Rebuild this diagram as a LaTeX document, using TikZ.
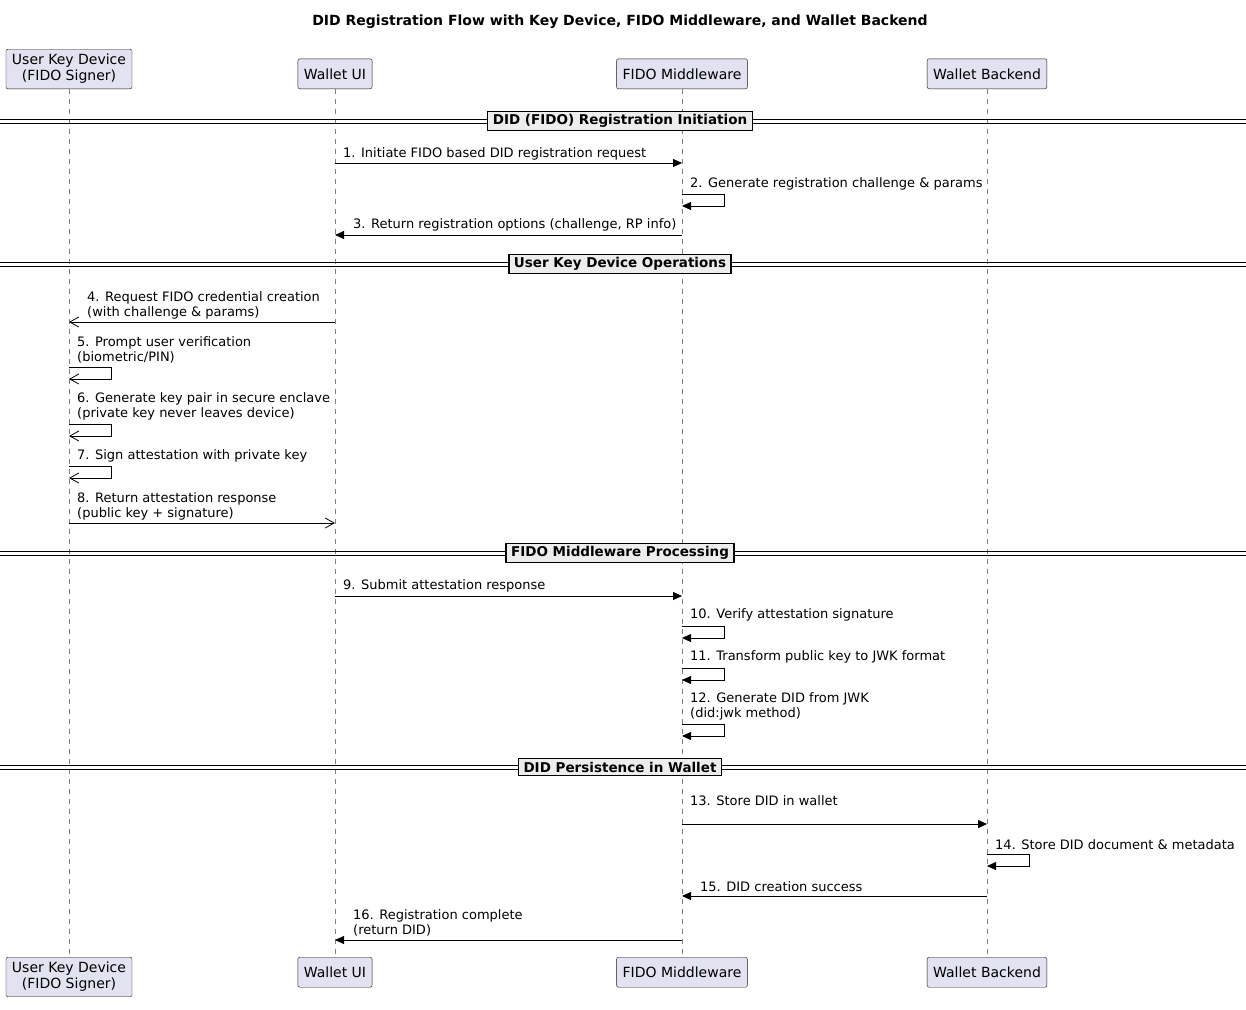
\documentclass[tikz,border=0pt]{standalone}
\usepackage{fontspec}
\setmainfont{DejaVu Sans}
\usetikzlibrary{arrows.meta}
\definecolor{pfill}{HTML}{E2E2F0}
\definecolor{pline}{HTML}{181818}
\begin{document}
\begin{tikzpicture}[x=1pt,y=-1pt,
  part/.style={draw=pline,fill=pfill,rounded corners=2pt,align=center,font=\fontsize{14}{16}\selectfont,inner xsep=6pt,inner ysep=5pt,minimum height=30pt},
  life/.style={draw=gray,dashed,dash pattern=on 5pt off 5pt,line width=0.5pt},
  msg/.style={-{Triangle[length=9pt,width=8pt]},line width=0.8pt},
  omsg/.style={-{Straight Barb[length=9pt,width=10pt]},line width=0.8pt},
  lbl/.style={font=\fontsize{13}{15}\selectfont,align=left,inner sep=0pt,anchor=south west},
  sep/.style={draw=black,fill=black!7,line width=1.2pt,font=\bfseries\fontsize{13.5}{15}\selectfont,inner xsep=5pt,inner ysep=3pt}]
\useasboundingbox (0,0) rectangle (1246,1009);
\node[font=\bfseries\fontsize{14}{16}\selectfont] (title) at (620,22) {DID Registration Flow with Key Device, FIDO Middleware, and Wallet Backend};
% heads
\node[part,anchor=south] (ukd) at (69,89) {User Key Device\\(FIDO Signer)};
\node[part,anchor=south] (wui) at (335,89) {Wallet UI};
\node[part,anchor=south] (fm) at (682,89) {FIDO Middleware};
\node[part,anchor=south] (wb) at (987,89) {Wallet Backend};
\node[part,anchor=north] (ukd2) at (69,957) {User Key Device\\(FIDO Signer)};
\node[part,anchor=north] (wui2) at (335,957) {Wallet UI};
\node[part,anchor=north] (fm2) at (682,957) {FIDO Middleware};
\node[part,anchor=north] (wb2) at (987,957) {Wallet Backend};
\draw[life] (ukd) -- (ukd2); \draw[life] (wui) -- (wui2);
\draw[life] (fm) -- (fm2); \draw[life] (wb) -- (wb2);
% separators
\foreach \y/\t/\n in {121/DID (FIDO) Registration Initiation/s1,264/User Key Device Operations/s2,553/FIDO Middleware Processing/s3,767/DID Persistence in Wallet/s4}{
  \draw[line width=0.8pt] (0,\y-2) -- (1246,\y-2) (0,\y+2) -- (1246,\y+2);
  \node[sep] (\n) at (620,\y) {\t};
}
% messages
\draw[msg] (wui |- 0,163) -- (fm |- 0,163);
\node[lbl] at (343,160) {1. Initiate FIDO based DID registration request};
\draw[msg] (682,194) -- (724,194) -- (724,206) -- (fm |- 0,206);
\node[lbl] at (690,190) {2. Generate registration challenge \& params};
\draw[msg] (fm |- 0,235) -- (wui |- 0,235);
\node[lbl] at (353,231) {3. Return registration options (challenge, RP info)};
\draw[omsg] (wui |- 0,322) -- (ukd |- 0,322);
\node[lbl] at (87,319) {4. Request FIDO credential creation\\(with challenge \& params)};
\draw[omsg] (69,367) -- (111,367) -- (111,379) -- (ukd |- 0,379);
\node[lbl] at (77,363) {5. Prompt user verification\\(biometric/PIN)};
\draw[omsg] (69,424) -- (111,424) -- (111,436) -- (ukd |- 0,436);
\node[lbl] at (77,420) {6. Generate key pair in secure enclave\\(private key never leaves device)};
\draw[omsg] (69,466) -- (111,466) -- (111,478) -- (ukd |- 0,478);
\node[lbl] at (77,462) {7. Sign attestation with private key};
\draw[omsg] (ukd |- 0,523) -- (wui |- 0,523);
\node[lbl] at (77,520) {8. Return attestation response\\(public key + signature)};
\draw[msg] (wui |- 0,596) -- (fm |- 0,596);
\node[lbl] at (343,592) {9. Submit attestation response};
\draw[msg] (682,626) -- (724,626) -- (724,638) -- (fm |- 0,638);
\node[lbl] at (690,621) {10. Verify attestation signature};
\draw[msg] (682,668) -- (724,668) -- (724,680) -- (fm |- 0,680);
\node[lbl] at (690,663) {11. Transform public key to JWK format};
\draw[msg] (682,724) -- (724,724) -- (724,736) -- (fm |- 0,736);
\node[lbl] at (690,720) {12. Generate DID from JWK\\(did:jwk method)};
\draw[msg] (fm |- 0,824) -- (wb |- 0,824);
\node[lbl] at (690,806) {13. Store DID in wallet};
\draw[msg] (987,854) -- (1029,854) -- (1029,866) -- (wb |- 0,866);
\node[lbl] at (995,850) {14. Store DID document \& metadata};
\draw[msg] (wb |- 0,896) -- (fm |- 0,896);
\node[lbl] at (700,892) {15. DID creation success};
\draw[msg] (fm |- 0,940) -- (wui |- 0,940);
\node[lbl] at (353,936) {16. Registration complete\\(return DID)};
\end{tikzpicture}
\end{document}
